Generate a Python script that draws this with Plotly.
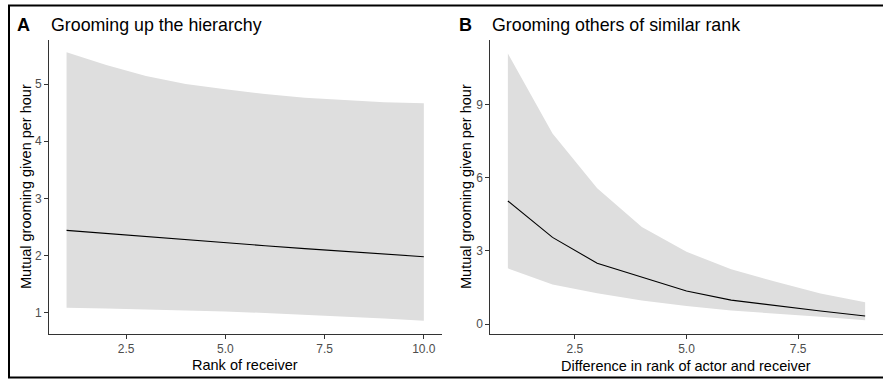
import plotly.graph_objects as go

W, H = 883, 381

# ---- Panel A data ----
rank_receiver = [1, 2, 3, 4, 5, 6, 7, 8, 9, 10]
a_fit = [2.44, 2.384, 2.329, 2.276, 2.223, 2.172, 2.122, 2.074, 2.026, 1.98]
a_upper = [5.554, 5.332, 5.140, 5.0, 4.907, 4.825, 4.761, 4.72, 4.68, 4.662]
a_lower = [1.087, 1.072, 1.057, 1.04, 1.02, 0.995, 0.966, 0.935, 0.90, 0.86]

# ---- Panel B data ----
rank_diff = [1, 2, 3, 4, 5, 6, 7, 8, 9]
b_fit = [5.04, 3.55, 2.49, 1.91, 1.35, 0.98, 0.74, 0.53, 0.33]
b_upper = [11.09, 7.81, 5.56, 3.98, 2.96, 2.24, 1.73, 1.25, 0.89]
b_lower = [2.28, 1.62, 1.26, 0.96, 0.74, 0.55, 0.41, 0.30, 0.15]

a_xticks = [2.5, 5.0, 7.5, 10.0]
a_xticklabels = ["2.5", "5.0", "7.5", "10.0"]
a_yticks = [1, 2, 3, 4, 5]
b_xticks = [2.5, 5.0, 7.5]
b_xticklabels = ["2.5", "5.0", "7.5"]
b_yticks = [0, 3, 6, 9]

FONT = "Liberation Sans, Arial, sans-serif"
BAND = "rgb(222,222,222)"

fig = go.Figure()

# Panel A ribbon + line
fig.add_trace(go.Scatter(x=rank_receiver + rank_receiver[::-1],
                         y=a_upper + a_lower[::-1],
                         fill="toself", fillcolor=BAND, line=dict(width=0),
                         mode="lines", hoverinfo="skip", showlegend=False,
                         xaxis="x", yaxis="y"))
fig.add_trace(go.Scatter(x=rank_receiver, y=a_fit, mode="lines",
                         line=dict(color="black", width=1.1), showlegend=False,
                         xaxis="x", yaxis="y"))

# Panel B ribbon + line
fig.add_trace(go.Scatter(x=rank_diff + rank_diff[::-1],
                         y=b_upper + b_lower[::-1],
                         fill="toself", fillcolor=BAND, line=dict(width=0),
                         mode="lines", hoverinfo="skip", showlegend=False,
                         xaxis="x2", yaxis="y2"))
fig.add_trace(go.Scatter(x=rank_diff, y=b_fit, mode="lines",
                         line=dict(color="black", width=1.1), showlegend=False,
                         xaxis="x2", yaxis="y2"))

ydom = [1 - 334 / H, 1 - 40 / H]
axis_common = dict(showline=True, linecolor="#333333", linewidth=1.1,
                   ticks="outside", ticklen=3.5, tickwidth=1, tickcolor="#333333",
                   showgrid=False, zeroline=False,
                   tickfont=dict(family=FONT, size=12, color="#4d4d4d"))

fig.update_layout(
    width=W, height=H,
    margin=dict(l=0, r=0, t=0, b=0),
    paper_bgcolor="white", plot_bgcolor="white",
    font=dict(family=FONT),
    xaxis=dict(domain=[48.7 / W, 441.7 / W], range=[0.55, 10.45],
               tickvals=a_xticks, ticktext=a_xticklabels, anchor="y", **axis_common),
    yaxis=dict(domain=ydom, range=[0.628, 5.77], tickvals=a_yticks,
               anchor="x", **axis_common),
    xaxis2=dict(domain=[490 / W, 1.0], range=[0.6, 9.4],
                tickvals=b_xticks, ticktext=b_xticklabels, anchor="y2", **axis_common),
    yaxis2=dict(domain=ydom, range=[-0.41, 11.64], tickvals=b_yticks,
                anchor="x2", **axis_common),
)

def px_x(p):
    return p / W

def px_y(p):
    return 1 - p / H

annotations = [
    dict(text="<b>A</b>", x=px_x(15), y=px_y(25), xanchor="left", yanchor="middle",
         font=dict(size=18, color="black", family=FONT)),
    dict(text="Grooming up the hierarchy", x=px_x(48.5), y=px_y(25), xanchor="left",
         yanchor="middle", font=dict(size=17.8, color="black", family=FONT)),
    dict(text="<b>B</b>", x=px_x(457), y=px_y(25), xanchor="left", yanchor="middle",
         font=dict(size=18, color="black", family=FONT)),
    dict(text="Grooming others of similar rank", x=px_x(489.5), y=px_y(25),
         xanchor="left", yanchor="middle",
         font=dict(size=17.8, color="black", family=FONT)),
    dict(text="Rank of receiver", x=px_x(245), y=px_y(365), xanchor="center",
         yanchor="middle", font=dict(size=14.5, color="black", family=FONT)),
    dict(text="Difference in rank of actor and receiver", x=px_x(686), y=px_y(366),
         xanchor="center", yanchor="middle",
         font=dict(size=14.5, color="black", family=FONT)),
    dict(text="Mutual grooming given per hour", x=px_x(26), y=px_y(187), textangle=-90,
         xanchor="center", yanchor="middle",
         font=dict(size=14.5, color="black", family=FONT)),
    dict(text="Mutual grooming given per hour", x=px_x(466), y=px_y(187), textangle=-90,
         xanchor="center", yanchor="middle",
         font=dict(size=14.5, color="black", family=FONT)),
]
for a in annotations:
    a.update(xref="paper", yref="paper", showarrow=False)
fig.update_layout(annotations=annotations)

fig.add_shape(type="rect", xref="paper", yref="paper",
              x0=px_x(9), x1=1.05, y0=px_y(377.5), y1=px_y(5.5),
              line=dict(color="black", width=2), fillcolor="rgba(0,0,0,0)")

fig.write_html("out.html")
